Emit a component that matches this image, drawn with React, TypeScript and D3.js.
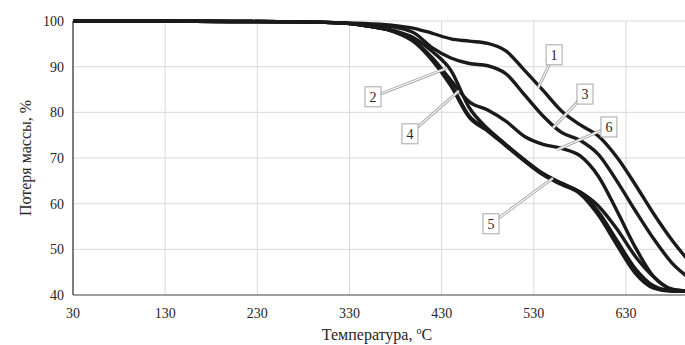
import { useEffect, useRef } from "react"
import * as d3 from "d3"

// temperatures, °C
const temps = [30, 100, 200, 280, 320, 350, 380, 400, 420, 440, 460, 480, 500, 520, 540, 560, 580, 600, 620, 640, 660, 680, 700]

// mass, %
const curve1 = [100, 100, 99.9, 99.8, 99.6, 99.4, 99.0, 98.4, 97.3, 96.1, 95.6, 95.1, 93.4, 89.2, 84.8, 80.3, 77.3, 74.8, 70.2, 64.2, 57.8, 52.0, 47.0]
const curve2 = [100, 100, 99.9, 99.8, 99.6, 98.9, 97.8, 96.3, 93.3, 89.2, 81.0, 76.4, 72.9, 69.5, 66.5, 64.4, 62.4, 58.2, 52.0, 45.8, 42.0, 40.9, 40.8]
const curve3 = [100, 100, 99.9, 99.8, 99.6, 99.2, 98.6, 97.4, 94.1, 91.9, 90.7, 90.2, 88.4, 83.8, 79.2, 75.6, 73.9, 70.8, 65.0, 58.5, 52.3, 47.0, 43.5]
const curve4 = [100, 100, 99.9, 99.8, 99.6, 98.9, 97.6, 95.6, 91.6, 86.2, 79.2, 76.2, 72.8, 69.6, 66.6, 64.5, 62.6, 59.5, 54.5, 48.5, 44.0, 41.2, 40.8]
const curve5 = [100, 100, 99.9, 99.8, 99.6, 98.9, 97.5, 95.4, 91.3, 85.8, 78.9, 75.9, 72.6, 69.3, 66.3, 64.2, 62.2, 57.5, 51.0, 44.8, 41.5, 40.8, 40.8]
const curve6 = [100, 100, 99.9, 99.8, 99.6, 98.9, 97.6, 95.6, 91.9, 87.0, 82.3, 80.5, 78.0, 74.7, 73.0, 72.1, 70.5, 66.0, 58.5, 50.5, 44.0, 41.3, 40.8]

const seriesValues = [curve1, curve2, curve3, curve4, curve5, curve6]

const xTicks = [30, 130, 230, 330, 430, 530, 630]
const yTicks = [40, 50, 60, 70, 80, 90, 100]

// callouts: name, box position (°C, %), pointed spot (°C, %)
const calloutNames = ["1", "2", "3", "4", "5", "6"]
const calloutBox = [[552, 92.6], [355.5, 83.4], [585.5, 84.0], [395.6, 75.3], [483.5, 55.6], [611.5, 76.8]]
const calloutTarget = [[534.5, 85.3], [436, 89.7], [550.8, 76.6], [448.8, 84.7], [550.8, 65.6], [555.1, 71.8]]

const W = 685
const H = 345
const FONT = "'Liberation Serif', 'Times New Roman', serif"

export default function App() {
  const svgRef = useRef<SVGSVGElement>(null)

  useEffect(() => {
    document.body.style.margin = "0"
    const svg = d3.select(svgRef.current)
    svg.selectAll("*").remove()

    const x = d3.scaleLinear().domain([30, 700]).range([73, 690.5])
    const y = d3.scaleLinear().domain([40, 100]).range([295, 21])

    // grid
    svg.append("g")
      .selectAll("line.v")
      .data(xTicks.slice(1))
      .join("line")
      .attr("x1", (d) => x(d)).attr("x2", (d) => x(d))
      .attr("y1", y(100)).attr("y2", y(40))
      .attr("stroke", "#d9d9d9").attr("stroke-width", 1)
    svg.append("g")
      .selectAll("line.h")
      .data(yTicks.slice(1))
      .join("line")
      .attr("x1", x(30)).attr("x2", W)
      .attr("y1", (d) => y(d)).attr("y2", (d) => y(d))
      .attr("stroke", "#d9d9d9").attr("stroke-width", 1)

    // axes lines
    svg.append("line")
      .attr("x1", x(30)).attr("x2", x(30)).attr("y1", y(100)).attr("y2", y(40))
      .attr("stroke", "#262626").attr("stroke-width", 1.2)
    svg.append("line")
      .attr("x1", x(30)).attr("x2", W).attr("y1", y(40)).attr("y2", y(40))
      .attr("stroke", "#404040").attr("stroke-width", 1.2)

    // tick labels
    svg.append("g")
      .selectAll("text")
      .data(xTicks)
      .join("text")
      .attr("x", (d) => x(d)).attr("y", y(40) + 23)
      .attr("text-anchor", "middle")
      .style("font-family", FONT).style("font-size", "14px").style("fill", "#262626")
      .text((d) => d)
    svg.append("g")
      .selectAll("text")
      .data(yTicks)
      .join("text")
      .attr("x", x(30) - 9).attr("y", (d) => y(d) + 5)
      .attr("text-anchor", "end")
      .style("font-family", FONT).style("font-size", "14px").style("fill", "#262626")
      .text((d) => d)

    // curves
    const line = d3.line<number>()
      .x((_, i) => x(temps[i]))
      .y((d) => y(d))
      .curve(d3.curveMonotoneX)

    svg.append("g")
      .selectAll("path")
      .data(seriesValues)
      .join("path")
      .attr("d", (d) => line(d))
      .attr("fill", "none")
      .attr("stroke", "#1a1a1a")
      .attr("stroke-width", 3.4)
      .attr("stroke-linejoin", "round")

    // callouts
    const co = svg.append("g")
    calloutNames.forEach((name, i) => {
      const bx = x(calloutBox[i][0])
      const by = y(calloutBox[i][1])
      const tx = x(calloutTarget[i][0])
      const ty = y(calloutTarget[i][1])
      co.append("line")
        .attr("x1", bx).attr("y1", by).attr("x2", tx).attr("y2", ty)
        .attr("stroke", "#a6a6a6").attr("stroke-width", 3)
      co.append("line")
        .attr("x1", bx).attr("y1", by).attr("x2", tx).attr("y2", ty)
        .attr("stroke", "#fff").attr("stroke-width", 1.1)
      co.append("rect")
        .attr("x", bx - 8).attr("y", by - 10).attr("width", 16).attr("height", 20)
        .attr("fill", "#fff").attr("stroke", "#a6a6a6").attr("stroke-width", 1)
      co.append("text")
        .attr("x", bx).attr("y", by + 5)
        .attr("text-anchor", "middle")
        .style("font-family", FONT).style("font-size", "14px").style("fill", "#262626")
        .text(name)
    })

    // axis titles
    const xt = svg.append("text")
      .attr("x", 377).attr("y", 340)
      .attr("text-anchor", "middle")
      .style("font-family", FONT).style("font-size", "16px").style("fill", "#262626")
    xt.append("tspan").text("Температура, ")
    xt.append("tspan").attr("font-size", "10px").attr("dy", -6).text("о")
    xt.append("tspan").attr("dy", 6).text("C")

    svg.append("text")
      .attr("transform", `translate(31,${(y(100) + y(40)) / 2}) rotate(-90)`)
      .attr("text-anchor", "middle")
      .style("font-family", FONT).style("font-size", "16px").style("fill", "#262626")
      .text("Потеря массы, %")
  }, [])

  return <svg ref={svgRef} width={W} height={H} style={{ display: "block", background: "#fff" }} />
}
